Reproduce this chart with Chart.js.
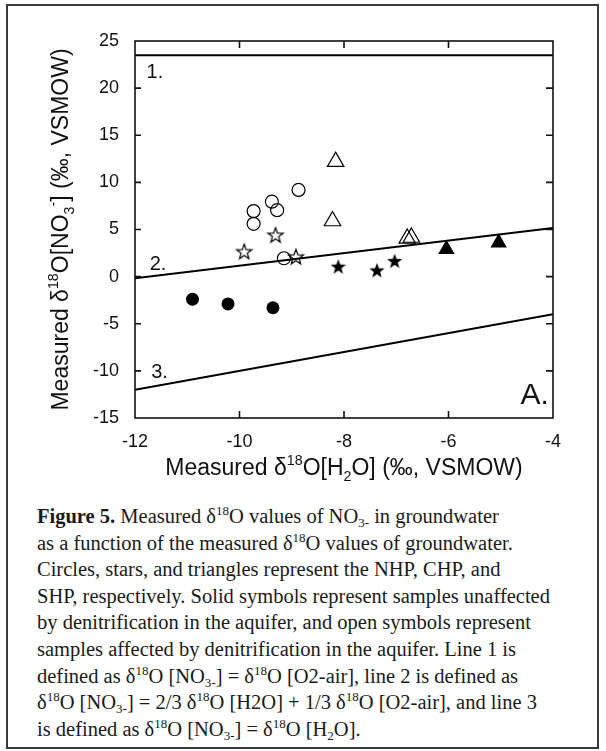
<!DOCTYPE html>
<html>
<head>
    <title>Figure 5</title>
    <script src="https://cdn.jsdelivr.net/npm/chart.js"></script>
    <style>
        body { margin: 0; background: #fff; }
        #page { position: relative; width: 606px; height: 751px; overflow: hidden; }
        #frame {
            position: absolute; left: 6px; top: 4px; width: 589px; height: 741px;
            border: 2px solid #3a3a3a;
        }
        #chartBox { position: absolute; left: 0; top: 0; width: 606px; height: 500px; }
        #caption {
            position: absolute; left: 37px; top: 503px;
            font-family: "Liberation Serif", "DejaVu Serif", serif;
            font-size: 20.5px; line-height: 26.6px; color: #1a1a1a;
            white-space: nowrap;
        }
        #caption sup, #caption sub { font-size: 13px; line-height: 0; position: relative; vertical-align: baseline; }
        #caption sup { top: -8px; }
        #caption sub { top: 4px; }
    </style>
</head>
<body>
<div id="page">
    <div id="frame"></div>
    <div id="chartBox"><canvas id="chart" width="606" height="500"></canvas></div>
    <div id="caption">
        <b>Figure 5.</b> Measured δ<sup>18</sup>O values of NO<sub>3-</sub> in groundwater<br>
        as a function of the measured δ<sup>18</sup>O values of groundwater.<br>
        Circles, stars, and triangles represent the NHP, CHP, and<br>
        SHP, respectively. Solid symbols represent samples unaffected<br>
        by denitrification in the aquifer, and open symbols represent<br>
        samples affected by denitrification in the aquifer. Line 1 is<br>
        defined as δ<sup>18</sup>O [NO<sub>3-</sub>] = δ<sup>18</sup>O [O2-air], line 2 is defined as<br>
        δ<sup>18</sup>O [NO<sub>3-</sub>] = 2/3 δ<sup>18</sup>O [H2O] + 1/3 δ<sup>18</sup>O [O2-air], and line 3<br>
        is defined as δ<sup>18</sup>O [NO<sub>3-</sub>] = δ<sup>18</sup>O [H<sub>2</sub>O].
    </div>
</div>

<script>
    // data
    const solidCircleX = [-10.9, -10.22, -9.36];
    const solidCircleY = [-2.4, -2.9, -3.3];
    const openCircleX = [-9.73, -9.73, -9.38, -9.28, -8.87, -9.15];
    const openCircleY = [6.95, 5.6, 7.95, 7.05, 9.2, 1.95];
    const openStarX = [-9.91, -9.31, -8.92];
    const openStarY = [2.65, 4.4, 2.1];
    const solidStarX = [-8.11, -7.37, -7.03];
    const solidStarY = [1.05, 0.65, 1.65];
    const openTriX = [-8.16, -8.22, -6.79, -6.71];
    const openTriY = [12.2, 5.9, 4.05, 4.15];
    const solidTriX = [-6.04, -5.04];
    const solidTriY = [2.9, 3.6];

    // reference lines 1, 2, 3 (end points at x = -12 and x = -4)
    const lineX = [-12, -4];
    const line1Y = [23.5, 23.5];
    const line2Y = [-0.17, 5.17];
    const line3Y = [-12, -4];

    const xTicks = [-12, -10, -8, -6, -4];
    const yTicks = [-15, -10, -5, 0, 5, 10, 15, 20, 25];

    const lineLabels = ['1.', '2.', '3.', 'A.'];
    const lineLabelX = [-11.62, -11.56, -11.53, -4.35];
    const lineLabelY = [21.7, 1.25, -10.2, -12.6];

    function pts(xs, ys) {
        return xs.map((x, i) => ({x: x, y: ys[i]}));
    }

    function makeStar(filled) {
        const c = document.createElement('canvas');
        c.width = 20; c.height = 20;
        const g = c.getContext('2d');
        g.beginPath();
        for (let i = 0; i < 10; i++) {
            const r = i % 2 === 0 ? 8 : 3.3;
            const a = -Math.PI / 2 + i * Math.PI / 5;
            const px = 10 + r * Math.cos(a), py = 10.5 + r * Math.sin(a);
            if (i === 0) g.moveTo(px, py); else g.lineTo(px, py);
        }
        g.closePath();
        if (filled) {
            g.fillStyle = '#000';
            g.fill();
        } else {
            g.strokeStyle = '#000';
            g.lineWidth = 1.2;
            g.stroke();
        }
        return c;
    }

    // draws text with super / subscripts, centred on (0,0)
    function richText(ctx, runs, size) {
        const small = size * 0.62;
        let total = 0;
        runs.forEach(r => {
            ctx.font = (r[1] === 'n' ? size : small) + 'px "Liberation Sans", Arial, sans-serif';
            r.w = ctx.measureText(r[0]).width;
            total += r.w;
        });
        let x = -total / 2;
        ctx.textAlign = 'left';
        ctx.textBaseline = 'alphabetic';
        runs.forEach(r => {
            ctx.font = (r[1] === 'n' ? size : small) + 'px "Liberation Sans", Arial, sans-serif';
            let dy = size * 0.36;
            if (r[1] === 'sup') dy -= size * 0.45;
            if (r[1] === 'sub') dy += size * 0.25;
            ctx.fillText(r[0], x, dy);
            x += r.w;
        });
    }

    const framePlugin = {
        id: 'framePlugin',
        afterDraw(chart) {
            const ctx = chart.ctx;
            const a = chart.chartArea;
            const xs = chart.scales.x, ys = chart.scales.y;
            ctx.save();
            ctx.strokeStyle = '#111';
            ctx.lineWidth = 1.6;
            ctx.strokeRect(a.left, a.top, a.right - a.left, a.bottom - a.top);
            // inward ticks
            ctx.beginPath();
            xTicks.slice(1, -1).forEach(v => {
                const p = xs.getPixelForValue(v);
                ctx.moveTo(p, a.bottom); ctx.lineTo(p, a.bottom - 7);
                ctx.moveTo(p, a.top); ctx.lineTo(p, a.top + 7);
            });
            yTicks.slice(1, -1).forEach(v => {
                const p = ys.getPixelForValue(v);
                ctx.moveTo(a.left, p); ctx.lineTo(a.left + 6, p);
                ctx.moveTo(a.right, p); ctx.lineTo(a.right - 7, p);
            });
            ctx.stroke();

            // line labels
            ctx.fillStyle = '#111';
            ctx.textAlign = 'center';
            ctx.textBaseline = 'middle';
            lineLabels.forEach((t, i) => {
                ctx.font = (t === 'A.' ? 30 : 20) + 'px "Liberation Sans", Arial, sans-serif';
                ctx.fillText(t, xs.getPixelForValue(lineLabelX[i]), ys.getPixelForValue(lineLabelY[i]));
            });

            // axis titles
            ctx.save();
            ctx.translate((a.left + a.right) / 2, 467);
            richText(ctx, [['Measured δ', 'n'], ['18', 'sup'], ['O[H', 'n'], ['2', 'sub'], ['O] (‰, VSMOW)', 'n']], 23);
            ctx.restore();
            ctx.save();
            ctx.translate(60, (a.top + a.bottom) / 2);
            ctx.rotate(-Math.PI / 2);
            richText(ctx, [['Measured δ', 'n'], ['18', 'sup'], ['O[NO', 'n'], ['3', 'sub'], ['-', 'sup'], ['] (‰, VSMOW)', 'n']], 23);
            ctx.restore();
            ctx.restore();
        }
    };

    const openStar = makeStar(false);
    const solidStar = makeStar(true);

    const lineStyle = {
        showLine: true, pointRadius: 0, borderColor: '#000', borderWidth: 2, fill: false
    };

    new Chart(document.getElementById('chart').getContext('2d'), {
        type: 'scatter',
        data: {
            datasets: [
                Object.assign({label: 'Line 1', data: pts(lineX, line1Y)}, lineStyle),
                Object.assign({label: 'Line 2', data: pts(lineX, line2Y)}, lineStyle),
                Object.assign({label: 'Line 3', data: pts(lineX, line3Y)}, lineStyle),
                {label: 'NHP solid', data: pts(solidCircleX, solidCircleY), pointStyle: 'circle',
                    pointRadius: 6.5, backgroundColor: '#000', borderColor: '#000', borderWidth: 0},
                {label: 'NHP open', data: pts(openCircleX, openCircleY), pointStyle: 'circle',
                    pointRadius: 6.5, backgroundColor: 'rgba(0,0,0,0)', borderColor: '#000', borderWidth: 1.2},
                {label: 'CHP open', data: pts(openStarX, openStarY), pointStyle: openStar, pointRadius: 8},
                {label: 'CHP solid', data: pts(solidStarX, solidStarY), pointStyle: solidStar, pointRadius: 8},
                {label: 'SHP open', data: pts(openTriX, openTriY), pointStyle: 'triangle',
                    pointRadius: 9.5, backgroundColor: 'rgba(0,0,0,0)', borderColor: '#000', borderWidth: 1.2},
                {label: 'SHP solid', data: pts(solidTriX, solidTriY), pointStyle: 'triangle',
                    pointRadius: 9.5, backgroundColor: '#000', borderColor: '#000', borderWidth: 0}
            ]
        },
        options: {
            responsive: false,
            animation: false,
            layout: {padding: {top: 41, right: 53, bottom: 0, left: 0}},
            plugins: {legend: {display: false}, tooltip: {enabled: false}},
            scales: {
                x: {
                    type: 'linear', min: -12, max: -4,
                    afterBuildTicks: s => { s.ticks = xTicks.map(v => ({value: v})); },
                    afterFit: s => { s.height = 82; },
                    grid: {display: false},
                    border: {display: false},
                    ticks: {color: '#111', padding: 5, maxRotation: 0,
                        font: {family: '"Liberation Sans", Arial, sans-serif', size: 18}}
                },
                y: {
                    type: 'linear', min: -15, max: 25,
                    afterBuildTicks: s => { s.ticks = yTicks.map(v => ({value: v})); },
                    afterFit: s => { s.width = 135; },
                    grid: {display: false},
                    border: {display: false},
                    ticks: {color: '#111', padding: 8,
                        font: {family: '"Liberation Sans", Arial, sans-serif', size: 18}}
                }
            }
        },
        plugins: [framePlugin]
    });
</script>
</body>
</html>
